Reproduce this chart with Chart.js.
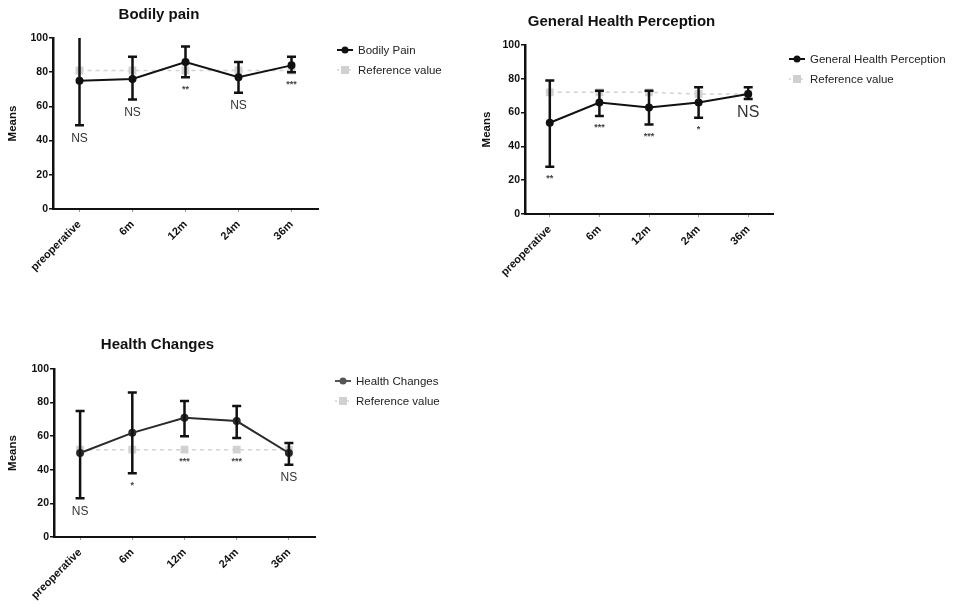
<!DOCTYPE html>
<html>
<head>
<meta charset="utf-8">
<script src="https://cdn.jsdelivr.net/npm/chart.js@4.4.1/dist/chart.umd.min.js"></script>
<style>
  html, body { margin: 0; padding: 0; background: #fff; }
  body { width: 979px; height: 606px; position: relative; overflow: hidden; font-family: "Liberation Sans", Arial, sans-serif; }
  canvas { position: absolute; display: block; }
  .legend { position: absolute; font-size: 11.5px; color: #222; line-height: 20px; }
  .legend .row { position: relative; height: 20px; white-space: nowrap; }
  .legend .mk { position: absolute; left: 0; top: 0; width: 18px; height: 20px; }
  .legend .tx { position: absolute; left: 0; top: 0; }
</style>
</head>
<body>
<canvas id="c1" width="344" height="300" style="left:0;top:0;width:344px;height:300px"></canvas>
<canvas id="c2" width="326" height="300" style="left:470px;top:0;width:326px;height:300px"></canvas>
<canvas id="c3" width="340" height="276" style="left:0;top:330px;width:340px;height:276px"></canvas>

<div class="legend" id="lg1" style="left:336px;top:40px"></div>
<div class="legend" id="lg2" style="left:788px;top:49px"></div>
<div class="legend" id="lg3" style="left:334px;top:371px"></div>

<script>
// ---------- data ----------
const categories = ['preoperative', '6m', '12m', '24m', '36m'];
const yTickValues = [0, 20, 40, 60, 80, 100];

// Bodily pain
const bpMeans = [75, 76, 86, 77, 84];
const bpUpper = [102, 89, 95, 86, 89];
const bpLower = [49, 64, 77, 68, 80];
const bpRef   = [81, 81, 81, 81, 81];
const bpSig   = ['NS', 'NS', '**', 'NS', '***'];

// General Health Perception
const ghMeans = [54, 66, 63, 66, 71];
const ghUpper = [79, 73, 73, 75, 75];
const ghLower = [28, 58, 53, 57, 68];
const ghRef   = [72, 72, 72, 71, 71];
const ghSig   = ['**', '***', '***', '*', 'NS'];

// Health Changes
const hcMeans = [50, 62, 71, 69, 50];
const hcUpper = [75, 86, 81, 78, 56];
const hcLower = [23, 38, 60, 59, 43];
const hcRef   = [52, 52, 52, 52, 52];
const hcSig   = ['NS', '*', '***', '***', 'NS'];

const FONT = '"Liberation Sans", Arial, sans-serif';

// ---------- error bars + significance labels plugin ----------
const errorBarPlugin = {
  id: 'errorBars',
  afterDatasetsDraw(chart, args, opts) {
    const { ctx, chartArea } = chart;
    const xs = chart.scales.x, ys = chart.scales.y;
    ctx.save();
    ctx.beginPath();
    ctx.rect(chartArea.left - 10, chartArea.top, chartArea.right - chartArea.left + 20, chartArea.bottom - chartArea.top);
    ctx.clip();
    ctx.strokeStyle = '#111';
    ctx.lineWidth = 2.5;
    const cap = 4.5;
    opts.upper.forEach((hi, i) => {
      const lo = opts.lower[i];
      const x = xs.getPixelForValue(i);
      const yH = ys.getPixelForValue(hi), yL = ys.getPixelForValue(lo);
      ctx.beginPath();
      ctx.moveTo(x, yH); ctx.lineTo(x, yL);
      ctx.moveTo(x - cap, yH); ctx.lineTo(x + cap, yH);
      ctx.moveTo(x - cap, yL); ctx.lineTo(x + cap, yL);
      ctx.stroke();
    });
    ctx.restore();
    // significance labels, placed under the lower of whisker / reference
    ctx.save();
    ctx.textAlign = 'center';
    ctx.textBaseline = 'middle';
    opts.sig.forEach((t, i) => {
      const x = xs.getPixelForValue(i);
      const base = Math.min(opts.lower[i], opts.ref[i]);
      const big = opts.bigIndex === i;
      const y = ys.getPixelForValue(base) + (t === 'NS' ? (big ? 14 : 13) : 12);
      if (t === 'NS') {
        ctx.font = (big ? '16px ' : '12px ') + FONT;
        ctx.fillStyle = '#333';
      } else {
        ctx.font = 'bold 9px ' + FONT;
        ctx.fillStyle = '#444';
      }
      ctx.fillText(t, x, y);
    });
    ctx.restore();
  }
};

function makeChart(id, cfg) {
  const ctx = document.getElementById(id);
  return new Chart(ctx, {
    type: 'line',
    data: {
      labels: categories,
      datasets: [
        {
          label: cfg.name,
          data: cfg.means,
          borderColor: cfg.lineColor,
          backgroundColor: cfg.lineColor,
          borderWidth: 2,
          pointRadius: 3,
          pointHoverRadius: 3,
          pointStyle: 'circle',
          tension: 0,
          clip: false
        },
        {
          label: 'Reference value',
          data: cfg.ref,
          borderColor: '#d2d2d2',
          backgroundColor: '#d0d0d0',
          borderWidth: 1.5,
          borderDash: [4, 4],
          pointRadius: 4.5,
          pointStyle: 'rect',
          tension: 0,
          clip: false
        }
      ]
    },
    options: {
      responsive: false,
      animation: false,
      devicePixelRatio: 1,
      layout: { padding: cfg.padding },
      plugins: {
        legend: { display: false },
        tooltip: { enabled: false },
        title: {
          display: true,
          text: cfg.title,
          color: '#111',
          font: { family: FONT, size: 15, weight: 'bold', lineHeight: 1.2 },
          padding: cfg.titlePad
        },
        errorBars: {
          upper: cfg.upper, lower: cfg.lower, ref: cfg.ref, sig: cfg.sig,
          bigIndex: cfg.bigIndex
        }
      },
      scales: {
        x: {
          type: 'category',
          offset: true,
          grid: { display: true, drawOnChartArea: false, drawTicks: true, tickLength: 3, color: '#999', lineWidth: 1 },
          border: { display: true, color: '#111', width: 2 },
          ticks: {
            color: '#111', font: { family: FONT, size: 11, weight: 'bold' },
            maxRotation: 45, minRotation: 45, autoSkip: false, padding: 6
          },
          afterFit: (s) => { s.height = cfg.xHeight; }
        },
        y: {
          min: 0, max: 100,
          afterBuildTicks: (s) => { s.ticks = yTickValues.map(v => ({ value: v })); },
          grid: { display: true, drawOnChartArea: false, drawTicks: true, tickLength: 4, color: '#111', lineWidth: 1.5 },
          border: { display: true, color: '#111', width: 2.5 },
          ticks: { color: '#111', font: { family: FONT, size: 10.5, weight: 'bold' }, padding: 1 },
          title: { display: true, text: 'Means', color: '#111', font: { family: FONT, size: 11.5, weight: 'bold' }, padding: { top: cfg.yTitlePad, bottom: 0 } },
          afterFit: (s) => { s.width = cfg.yWidth; }
        }
      }
    },
    plugins: [errorBarPlugin]
  });
}

makeChart('c1', {
  name: 'Bodily Pain', title: 'Bodily pain', lineColor: '#111',
  means: bpMeans, upper: bpUpper, lower: bpLower, ref: bpRef, sig: bpSig,
  padding: { left: 0, right: 26, top: 0, bottom: 0 },
  titlePad: { top: 6, bottom: 14 }, xHeight: 91, yWidth: 53, yTitlePad: 6, bigIndex: -1
});
makeChart('c2', {
  name: 'General Health Perception', title: 'General Health Perception', lineColor: '#111',
  means: ghMeans, upper: ghUpper, lower: ghLower, ref: ghRef, sig: ghSig,
  padding: { left: 0, right: 23, top: 0, bottom: 0 },
  titlePad: { top: 13, bottom: 14 }, xHeight: 86, yWidth: 55, yTitlePad: 10, bigIndex: 4
});
makeChart('c3', {
  name: 'Health Changes', title: 'Health Changes', lineColor: '#2a2a2a',
  means: hcMeans, upper: hcUpper, lower: hcLower, ref: hcRef, sig: hcSig,
  padding: { left: 0, right: 25, top: 0, bottom: 0 },
  titlePad: { top: 6, bottom: 15 }, xHeight: 69, yWidth: 54, yTitlePad: 6, bigIndex: -1
});

// ---------- HTML legends ----------
function legend(id, name, mainColor) {
  const el = document.getElementById(id);
  el.innerHTML =
    '<div class="row"><svg class="mk" width="18" height="20"><line x1="1" y1="10" x2="17" y2="10" stroke="' + mainColor + '" stroke-width="2"/><circle cx="9" cy="10" r="3.5" fill="' + mainColor + '"/></svg><span class="tx" style="left:22px">' + name + '</span></div>' +
    '<div class="row"><svg class="mk" width="18" height="20"><line x1="1" y1="10" x2="17" y2="10" stroke="#d2d2d2" stroke-width="1.5" stroke-dasharray="2 4"/><rect x="5" y="6" width="8" height="8" fill="#d0d0d0"/></svg><span class="tx" style="left:22px">Reference value</span></div>';
}
legend('lg1', 'Bodily Pain', '#111');
legend('lg2', 'General Health Perception', '#111');
legend('lg3', 'Health Changes', '#555');
</script>
</body>
</html>
